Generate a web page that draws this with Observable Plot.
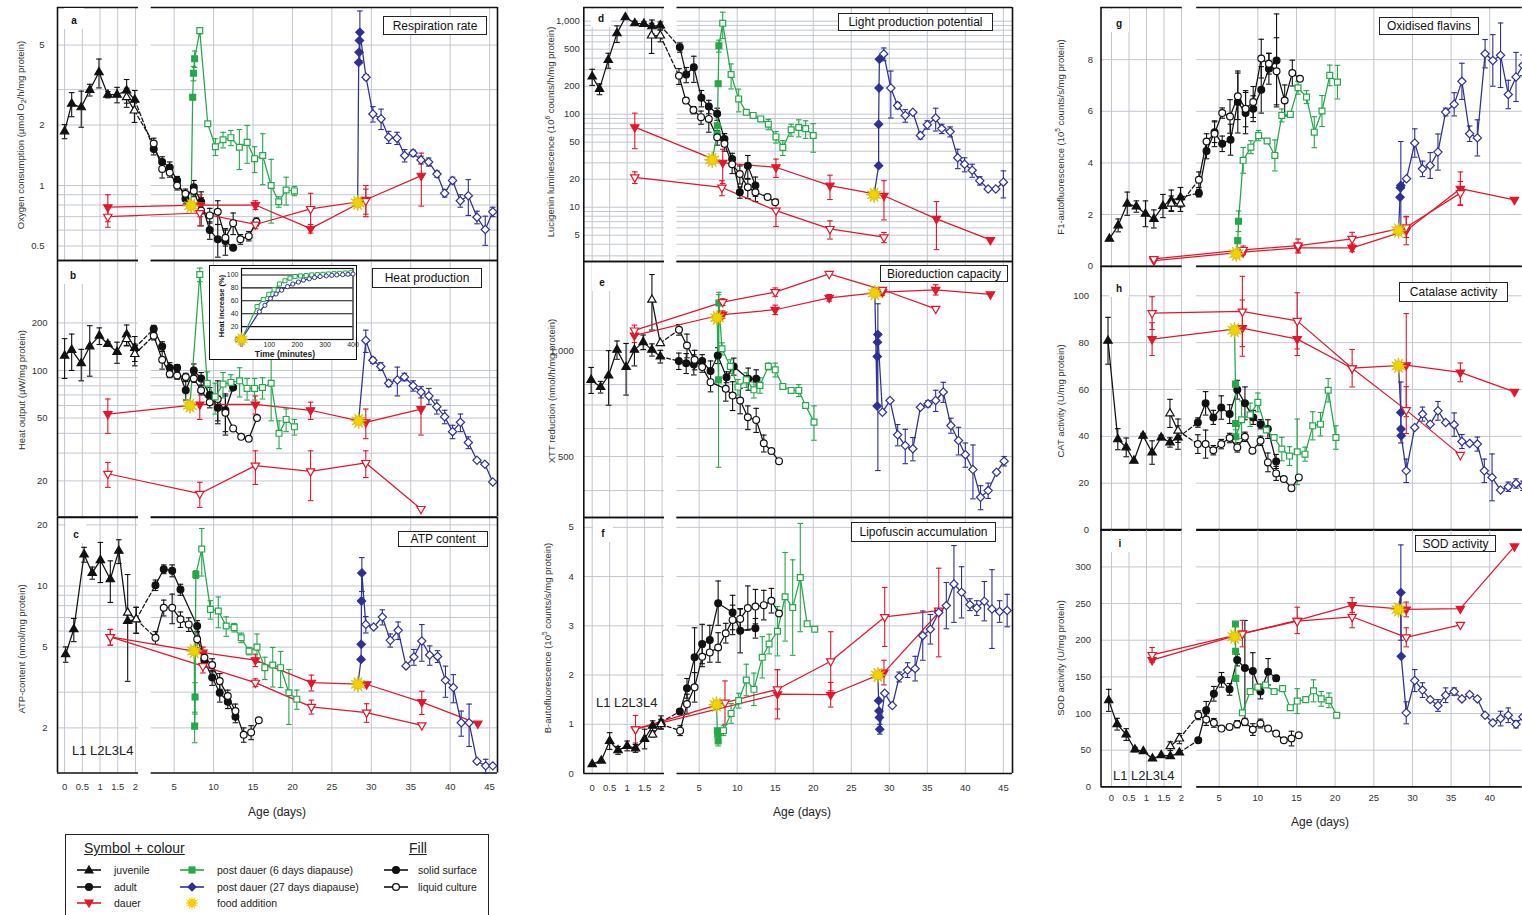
<!DOCTYPE html>
<html><head><meta charset="utf-8">
<script src="https://cdn.jsdelivr.net/npm/d3@7"></script>
<script src="https://cdn.jsdelivr.net/npm/@observablehq/plot@0.6"></script>
<style>
body{margin:0;background:#fff;font-family:"Liberation Sans",Arial,sans-serif;}
#page{position:relative;width:1522px;height:915px;overflow:hidden;background:#fff;}
.ylab{position:absolute;white-space:nowrap;font-size:9.5px;color:#333;transform:translate(-50%,-50%) rotate(-90deg);}
.title{position:absolute;border:1.5px solid #222;background:#fff;font-size:12px;color:#111;white-space:nowrap;box-sizing:border-box;display:flex;align-items:center;justify-content:center;}
.letter{position:absolute;background:#fff;font-weight:bold;font-size:10px;color:#111;display:flex;align-items:flex-end;justify-content:center;box-sizing:border-box;padding-bottom:3px;}
.age{position:absolute;font-size:12px;color:#222;transform:translate(-50%,-50%);white-space:nowrap;}
.stage{position:absolute;font-size:13px;color:#222;transform:translate(0,-50%);white-space:nowrap;}
.lg{position:absolute;font-size:10.5px;color:#222;white-space:nowrap;transform:translate(0,-50%);}
</style></head><body><div id="page"></div><script>
// ---------------- DATA: [day, value, err] or [day, value, low, high] ----------------
// a: respiration rate
const a_js=[[0,1.86,0.15],[0.2,2.55,0.35],[0.47,2.45,0.5],[0.71,2.99,0.2],[0.97,3.66,0.6],[1.22,2.83,0.1],[1.48,2.83,0.25],[1.75,2.97,0.4],[1.98,2.67,0.3]];
const a_jl=[[1.75,2.75,0.3],[1.97,2.36,0.3]];
const a_as=[[2.41,1.52,0.1],[3.48,1.31,0.08],[4.44,1.23,0.08],[5.38,1.06,0.05],[6.43,0.86,0.05],[7.49,0.98,0.08],[8.42,0.83,0.1],[9.51,0.6,0.06],[10.53,0.54,0.1],[11.5,0.53,0.08],[12.48,0.49,0]];
const a_al=[[2.41,1.62,0.1],[3.48,1.21,0.12],[4.44,1.16,0.06],[5.38,1.0,0.05],[6.43,0.91,0.05],[7.49,0.94,0.06],[8.42,0.75,0.12],[9.51,0.71,0.06],[10.53,0.74,0.1],[11.5,0.55,0.05],[12.48,0.65,0.08],[13.4,0.54,0.03],[14.46,0.56,0.03],[15.43,0.66,0.03]];
const a_ds=[[1.22,0.78,0.12],[8.3,0.8,0.1],[15.3,0.8,0.04],[22.3,0.61,0.03],[29.3,0.85,0.15],[36.34,1.12,0.33]];
const a_dl=[[1.22,0.70,0.08],[8.25,0.73,0.1],[15.3,0.64,0.03],[22.3,0.765,0.15],[29.3,0.84,0.12]];
const a_gs=[[7.35,2.75,0],[7.45,3.62,0.3],[7.6,4.27,0.4]];
const a_gl=[[8.25,5.9,0.2],[9.26,2.03,0.05],[10.23,1.56,0.15],[11.2,1.69,0.15],[12.2,1.73,0.15],[13.27,1.55,0.35],[14.25,1.64,0.35],[15.2,1.36,0.2],[16.23,1.41,0.4],[17.3,1.0,0.35],[18.26,0.83,0.05],[19.2,0.95,0.15],[20.25,0.94,0.05]];
const a_bs=[[28.4,4.1,0],[28.45,4.6,0],[28.5,5.27,0],[28.55,5.79,1.6]];
const a_bl=[[29.33,3.46,0.1],[30.2,2.27,0.2],[31.24,2.15,0.25],[32.2,1.74,0.12],[33.26,1.72,0.12],[34.23,1.41,0.1],[35.3,1.45,0.05],[36.3,1.34,0.06],[37.27,1.31,0.06],[38.33,1.14,0.04],[39.3,0.916,0.04],[40.3,1.06,0.04],[41.28,0.84,0.06],[42.3,0.89,0.18],[43.4,0.695,0.05],[44.45,0.604,0.1],[45.4,0.74,0.04]];
const a_star=[[7.15,0.795],[28.27,0.82]];
// b: heat production
const b_js=[[0,124,35],[0.2,135,35],[0.47,111,25],[0.71,142,50],[0.98,166,20],[1.22,147,5],[1.48,131,20],[1.75,169,25],[1.98,139,25]];
const b_jl=[[1.75,158,15],[1.98,127,20]];
const b_as=[[2.41,183,10],[3.48,142,10],[4.44,104,8],[5.38,104,5],[6.47,75,10],[7.49,100,10],[8.42,89,8],[9.51,70,8],[10.53,58,10],[11.5,56,15],[12.48,78,0]];
const b_al=[[2.41,166,10],[3.48,117,15],[4.44,95,5],[5.38,93,5],[6.47,91,5],[7.49,89,5],[8.42,75,5],[9.51,63,5],[10.53,66,20],[11.5,54,15],[12.48,43,0],[13.5,38,0],[14.46,37,0],[15.5,50,0]];
const b_ds=[[1.22,53,13],[8.25,61,12],[15.3,61,8],[22.3,56,7],[29.3,47,10],[36.3,57,18]];
const b_dl=[[1.22,22.2,4],[8.25,16.6,3],[15.3,25,6],[22.3,23,8],[29.3,26,5],[36.3,13.3,0]];
const b_gs=[];
const b_gl=[[8.25,405,40],[9.2,83,15],[10.2,68,15],[11.2,82,15],[12.2,84,10],[13.3,86,18],[14.25,77,12],[15.2,77,12],[16.2,78,12],[17.3,83,35],[18.3,40,8],[19.2,49,8],[20.25,44,5]];
const b_bs=[];
const b_bl=[[29.3,155,25],[30.2,116,5],[31.2,106,6],[32.2,83,4],[33.3,87,18],[34.2,91,5],[35.3,80,6],[36.3,73,6],[37.3,69,8],[38.3,59,6],[39.3,51,5],[40.3,41,4],[41.3,47,6],[42.3,35,3],[43.4,27,0],[44.4,25.5,0],[45.4,19.7,0]];
const b_star=[[7.0,60],[28.4,48]];
// b inset: heat increase (%) vs time (minutes)
const inset_green=[[0,0],[56,51],[78,62],[98,70],[117,77],[136,86],[156,91],[174,95],[192,97.5],[212,98.5],[232,99],[252,100],[272,100.5],[292,101],[312,101.5],[332,102],[352,102.5],[372,103],[392,103.5]];
const inset_blue=[[0,0],[64,43],[84,53],[104,63.5],[124,70.5],[144,76.5],[165,82],[184,86],[204,89],[222,92],[243,94],[262,96],[282,97.5],[304,98.5],[324,99.5],[342,100],[363,100.5],[382,101],[400,101.5]];
// c: ATP content
const c_js=[[0.03,4.61,0.4],[0.26,6.12,0.8],[0.55,14.3,1.2],[0.78,11.6,0.8],[1.01,13.4,3],[1.29,10.8,2.5],[1.53,14.9,2],[1.78,6.72,0],[2.02,6.85,1]];
const c_jl=[[1.78,7.39,4],[2.02,6.85,1]];
const c_as=[[2.63,10.1,0.6],[3.68,12.1,0.6],[4.75,11.9,0.8],[5.8,9.6,0.6],[7.92,6.35,0.4],[8.84,4.27,0.3],[9.82,3.54,0.3],[10.78,2.98,0.3],[11.8,2.69,0.2],[12.77,2.27,0.15]];
const c_al=[[2.63,5.56,0.4],[3.68,7.82,0.7],[4.75,7.82,1.3],[5.8,6.85,0.6],[6.85,6.47,0.5],[7.92,5.46,0.5],[8.84,4.44,0.3],[9.82,4.08,0.3],[10.78,3.4,0.3],[11.8,2.87,0.2],[12.77,2.42,0.2],[13.82,1.85,0.15],[14.76,1.9,0.15],[15.73,2.18,0]];
const c_ds=[[1.29,5.61,0.5],[8.65,4.7,0.3],[15.3,4.31,0.3],[22.4,3.34,0.3],[29.4,3.28,0],[36.4,2.68,0.35],[43.5,2.1,0]];
const c_dl=[[1.29,5.61,0.5],[8.65,4.03,0.3],[15.3,3.34,0.15],[22.4,2.54,0.2],[29.4,2.38,0.25],[36.4,2.06,0]];
const c_gs=[[7.6,2.04,0.35],[7.65,2.84,0.5],[7.75,11.4,0.5]];
const c_gl=[[8.5,15.2,4],[9.6,7.67,0.8],[10.6,7.53,1.3],[11.6,6.35,0.7],[12.6,6.24,0.3],[13.5,5.56,0.3],[14.5,4.78,0.2],[15.5,5.0,0.8],[16.5,3.96,0.5],[17.5,4.08,0.9],[18.5,3.96,0.8],[19.55,2.98,0.9],[20.55,2.77,0.3]];
const c_bs=[[28.7,4.35,0],[28.72,5.16,0],[28.75,8.44,0],[28.8,11.6,2.2]];
const c_bl=[[29.3,6.47,0.6],[30.3,6.28,0],[31.4,7.03,0.6],[32.4,5.4,0.4],[33.4,6.05,0.6],[34.4,4.04,0],[35.4,4.47,0.4],[36.4,5.36,1.1],[37.4,4.57,0.5],[38.4,4.5,0.3],[39.4,3.43,0.6],[40.4,3.16,0.5],[41.4,2.12,0.3],[42.4,2.12,0.5],[43.4,1.37,0],[44.5,1.3,0.1],[45.4,1.3,0]];
const c_star=[[7.55,4.78],[28.3,3.28]];
// d: light production potential
const d_js=[[0,254,50],[0.21,187,25],[0.46,382,70],[0.71,740,150],[0.95,1100,0],[1.22,950,50],[1.48,935,50],[1.71,880,150],[1.95,900,80]];
const d_jl=[[1.7,700,250],[1.95,700,100]];
const d_as=[[2.46,524,60],[3.3,268,50],[4.3,320,100],[5.3,150,30],[6.27,121,20],[7.37,101,15],[8.33,54,8],[9.34,33,5],[10.35,14.5,2],[11.4,28,8],[12.4,17.1,4]];
const d_al=[[2.35,259,50],[3.26,140,10],[4.25,111,10],[5.25,93,15],[6.27,89,25],[7.37,56.5,10],[8.33,48,8],[9.34,29,6],[10.35,22.8,5],[11.4,16.4,4],[12.4,14.5,3],[14.0,12.9,0],[15.0,11.3,0]];
const d_ds=[[1.22,72.6,30],[8.1,30,12],[15.1,26.9,6],[22.2,17.1,5],[29.3,13.3,6],[36.2,7.5,4],[43.3,4.45,0]];
const d_dl=[[1.22,21,3],[8.0,16.3,3],[15.1,9.2,3],[22.2,5.85,1.3],[29.3,4.76,0.6]];
const d_gs=[[7.37,61,0],[7.4,75,0],[7.5,213,0],[7.6,545,80]];
const d_gl=[[8.1,950,300],[9.2,267,80],[10.2,146,40],[11.2,105,0],[12.1,97,0],[13.1,89,0],[14.1,78,10],[15.1,57,8],[16.0,44,8],[17.1,68,10],[18.1,72,15],[19.0,70,15],[20.0,59,20]];
const d_bs=[[28.6,28,0],[28.6,78,0],[28.65,191,0],[28.7,390,0]];
const d_bl=[[29.27,445,70],[30.2,191,100],[31.1,124,10],[32.1,97,15],[33.1,105,0],[34.1,59,5],[35.0,77,8],[36.1,91,25],[36.9,70,8],[38.0,65,8],[39.0,34,8],[39.9,29,5],[40.9,25,4],[41.9,19.3,2],[43.0,15.7,0],[44.0,15.7,0],[45.0,18.6,6]];
const d_star=[[6.72,32.3],[28.0,13.6]];
// e: bioreduction capacity
const e_js=[[-0.03,825,70],[0.24,787,30],[0.47,849,150],[0.71,1004,60],[0.97,897,150],[1.21,1004,100],[1.46,1056,50],[1.71,1004,40],[1.95,961,40]];
const e_jl=[[1.71,1393,250],[1.95,1049,0]];
const e_as=[[2.33,933,50],[3.3,920,60],[4.3,912,60],[5.4,933,40],[6.5,874,60],[7.45,968,50],[8.6,840,30],[9.55,901,50],[11.45,831,60],[12.5,831,50]];
const e_al=[[2.35,1145,40],[3.4,1033,80],[4.4,941,60],[5.4,897,30],[6.5,813,50],[8.5,778,60],[9.4,745,70],[10.4,721,60],[11.4,646,50],[12.5,635,50],[13.5,545,30],[14.5,518,0],[15.5,485,0]];
const e_ds=[[1.21,1103,50],[8.1,1265,30],[15.0,1305,40],[22.1,1411,30],[29.1,1465,30],[36.1,1487,50],[43.3,1443,0]];
const e_dl=[[1.21,1140,40],[8.1,1372,30],[15.0,1465,40],[22.1,1650,0],[29.1,1487,0],[36.1,1313,0]];
const e_gs=[[7.55,825,466,1440],[7.6,1363,100]];
const e_gl=[[8.0,1011,40],[9.1,901,40],[10.1,787,40],[11.2,825,40],[12.2,773,40],[13.0,796,40],[14.1,901,20],[15.0,881,40],[16.0,790,0],[17.1,770,0],[18.1,770,30],[19.0,698,0],[20.1,626,70]];
const e_bs=[[28.4,695,0],[28.42,961,0],[28.45,1056,0],[28.5,1110,456,1357]];
const e_bl=[[29.1,668,0],[30.1,721,0],[31.1,576,40],[32.1,537,60],[33.1,526,40],[34.1,690,0],[35.1,706,15],[36.1,721,50],[37.1,762,50],[38.1,612,30],[39.1,555,50],[40.0,506,40],[41.0,459,80],[42.0,383,30],[43.0,400,20],[44.1,451,0],[45.1,485,15]];
const e_star=[[7.37,1238],[28.1,1455]];
// f: lipofuscin accumulation
const f_js=[[0,0.19,0],[0.26,0.26,0],[0.5,0.66,0.17],[0.74,0.47,0.08],[1.0,0.56,0.1],[1.24,0.51,0.08],[1.5,0.7,0.2],[1.73,0.97,0.1],[1.97,1.04,0.13]];
const f_jl=[[1.73,0.79,0.05],[1.97,1.0,0.1]];
const f_as=[[2.46,1.26,0],[3.4,1.73,0.2],[4.4,2.36,0.6],[5.4,2.63,0.4],[6.4,2.71,0.3],[7.5,3.46,0.45],[9.4,3.27,0.35],[10.4,2.9,0.45],[12.4,2.95,0.2]];
const f_al=[[2.5,0.87,0.1],[3.4,1.41,0.2],[4.4,1.75,0.3],[5.4,2.37,0.2],[6.4,2.46,0.2],[7.5,2.56,0.3],[8.5,2.85,0.2],[9.4,3.12,0.3],[10.4,3.14,0.2],[11.4,3.36,0.45],[12.4,3.39,0.35],[13.5,3.42,0.3],[14.5,3.51,0.25],[15.5,3.25,0]];
const f_ds=[[1.24,0.9,0.28],[15.3,1.61,0.5],[22.3,1.6,0.25],[29.3,2.05,0.25],[36.5,3.27,0.9]];
const f_dl=[[1.24,0.9,0],[8.4,1.44,0.44],[15.3,1.71,0.4],[22.3,2.28,0.6],[29.4,3.18,0.6],[36.5,3.31,0]];
const f_gs=[[7.4,0.87,0],[7.45,0.8,0],[7.5,0.66,0.1]];
const f_gl=[[8.2,0.87,0.1],[9.2,1.22,0.2],[10.2,1.48,0.15],[11.2,1.9,0.32],[12.2,1.71,0.33],[13.3,2.36,0.42],[14.2,2.63,0.2],[15.3,2.89,0.5],[16.3,3.59,0.9],[17.3,3.37,0.97],[18.3,3.98,1.1],[19.2,3.04,0.05],[20.2,2.93,0]];
const f_bs=[[28.6,1.48,0],[28.65,1.27,0],[28.7,1.14,0],[28.75,0.9,0.1]];
const f_bl=[[29.4,1.63,0],[30.4,1.38,0],[31.3,1.96,0.1],[32.4,2.1,0.15],[33.4,2.13,0.25],[34.4,2.8,0.5],[35.4,2.93,0.3],[36.5,3.27,0],[37.5,3.41,0.47],[38.5,3.85,0.78],[39.5,3.68,0.52],[40.6,3.43,0.12],[41.5,3.36,0.15],[42.5,3.5,0.4],[43.5,3.34,0.8],[44.5,3.29,0.22],[45.5,3.31,0.33]];
const f_star=[[7.28,1.40],[28.5,2.0]];
// g: oxidised flavins
const g_js=[[-0.06,1.06,0],[0.19,1.58,0.25],[0.45,2.42,0.45],[0.71,2.31,0.22],[0.97,2.03,0.5],[1.21,1.83,0.35],[1.47,2.33,0.45],[1.71,2.55,0.4],[1.97,2.67,0.38]];
const g_jl=[[1.71,2.42,0.3],[1.97,2.42,0.3]];
const g_as=[[2.37,2.83,0.15],[3.36,4.46,0.3],[4.4,5.19,0.4],[5.39,4.74,0.3],[6.47,4.9,0.6],[7.41,6.36,1.2],[8.41,5.93,0.8],[9.4,6.1,0.5],[10.44,6.83,0.9],[11.43,7.65,0.6],[12.42,7.97,1.8]];
const g_al=[[2.37,3.35,0.3],[3.36,4.83,0.3],[4.4,5.13,0.5],[5.39,5.93,0.2],[6.4,5.8,0.65],[7.41,6.58,0.9],[8.41,6.1,0.7],[9.4,6.36,0.6],[10.44,8.04,0.75],[11.43,7.84,0.4],[12.42,7.55,1.3],[13.47,6.42,0.6],[14.46,7.48,0.5],[15.45,7.26,0]];
const g_ds=[[1.21,0.22,0],[8.1,0.54,0.1],[15.2,0.71,0.2],[22.2,0.71,0.15],[29.2,1.38,0.55],[36.2,3.0,0.65],[43.2,2.57,0]];
const g_dl=[[1.21,0.28,0],[8.1,0.63,0.15],[15.2,0.80,0.25],[22.2,1.06,0.25],[29.2,1.51,0.4],[36.2,2.83,0.45]];
const g_gs=[[7.4,0.99,0],[7.5,1.74,0.4]];
const g_gl=[[8.1,4.1,0.5],[9.1,4.61,0.25],[10.1,5.06,0.2],[11.2,4.85,0],[12.2,4.29,0.6],[13.1,5.84,0.25],[14.2,5.88,0],[15.2,6.91,0.25],[16.3,6.55,0.25],[17.3,5.19,0.6],[18.3,6.01,0.6],[19.3,7.39,0.4],[20.3,7.13,0.65]];
const g_bs=[[28.4,2.67,0],[28.45,3.04,0],[28.5,3.13,1.7]];
const g_bl=[[29.24,3.39,0],[30.3,4.77,0.55],[31.3,3.77,0.3],[32.3,3.9,0.5],[33.3,4.42,0.7],[34.3,5.97,0.15],[35.4,6.27,0.45],[36.4,7.16,0.7],[37.4,5.13,0.3],[38.4,4.97,0.7],[39.4,8.23,0.55],[40.4,7.97,1.0],[41.4,8.17,1.25],[42.4,6.65,0.55],[43.4,7.33,0.95],[44.3,7.78,0.4],[45.0,8.2,0.5]];
const g_star=[[7.21,0.48],[28.2,1.38]];
// h: catalase activity
const h_js=[[-0.1,80.8,10],[0.18,38.8,4.5],[0.42,35.3,4],[0.64,29.6,0],[0.9,40.3,1],[1.16,33.1,5],[1.42,39.5,1],[1.67,37.4,2],[1.9,39.5,5]];
const h_jl=[[1.67,49.8,6],[1.9,42.4,5]];
const h_as=[[2.24,45.9,2],[3.24,54.1,5],[4.24,48.1,3],[5.27,52.3,5],[6.35,49.5,4],[7.34,59.9,4],[8.33,54.1,7],[9.4,48.1,3],[10.35,45.2,2],[11.3,43.1,4],[12.37,29.3,3]];
const h_al=[[2.24,36.7,4],[3.24,36.7,6],[4.24,34.1,2],[5.27,36.7,2],[6.35,39.3,2],[7.34,35.3,2],[8.33,39.8,2],[9.3,33.9,0],[10.35,38.1,2],[11.3,28.9,4],[12.37,24.2,3],[13.36,21.8,0],[14.35,17.9,0],[15.3,22.5,0]];
const h_ds=[[1.16,81.5,7],[8.0,86.2,12],[15.1,81.5,7],[22.2,69.1,8],[29.2,70.4,22],[36.2,67.3,4],[43.2,59.0,0]];
const h_dl=[[1.16,92.6,7],[8.0,93.3,15],[15.1,89.3,12],[22.2,69.1,0],[29.2,51.2,10],[36.2,32.1,0]];
const h_gs=[[7.1,62.3,0],[7.12,45.5,0],[7.15,39.8,3]];
const h_gl=[[7.9,47.1,8],[9.0,49.2,5],[10.0,54.5,4],[11.1,42.7,0],[12.1,39.5,0],[13.1,34.6,5],[14.1,31.6,4],[15.1,33.4,14],[16.1,32.4,3],[17.1,44.5,6],[18.1,45.2,5],[19.1,59.7,5],[20.1,39.5,5]];
const h_bs=[[28.5,50.2,13],[28.52,43.1,0],[28.55,40.3,0]];
const h_bl=[[29.2,25.3,5],[30.3,43.8,0],[31.3,49.5,3],[32.3,45.2,0],[33.3,50.9,4],[34.3,45.9,0],[35.4,45.0,5],[36.4,37.8,3],[37.4,37.0,0],[38.4,36.7,3],[39.3,25.3,5],[40.3,22.5,10],[41.4,17.1,0],[42.4,18.5,2],[43.4,19.9,2],[44.3,18.9,2]];
const h_star=[[6.99,85.3],[28.2,70.1]];
// i: SOD activity
const i_js=[[-0.08,118,15],[0.16,85.5,8],[0.42,71.4,8],[0.67,50.9,3],[0.91,48.6,0],[1.17,38.6,0],[1.42,43.2,0],[1.68,41.8,0],[1.94,46.8,0]];
const i_jl=[[1.68,55.5,6],[1.94,65.9,7]];
const i_as=[[2.29,63.6,0],[3.32,104.5,12],[4.31,127,10],[5.3,146,10],[6.34,133,8],[7.33,173,8],[8.32,162,91,227],[9.35,158,25],[10.34,130,10],[11.33,157,18],[12.37,148,4]];
const i_al=[[2.29,97.7,6],[3.32,91.8,8],[4.31,87.3,6],[5.3,79.5,0],[6.34,81.8,0],[7.33,85.5,5],[8.32,88.6,5],[9.35,78.2,8],[10.34,86.4,6],[11.33,79.5,0],[12.37,72.7,0],[13.36,63.6,0],[14.35,65.9,10],[15.3,70.5,0]];
const i_ds=[[1.16,173,0],[8.0,209,18],[15.1,227,18],[22.2,248,10],[29.2,242,10],[36.2,243,0],[43.2,328,0]];
const i_dl=[[1.16,180,10],[8.0,209,0],[15.1,226,0],[22.2,232,15],[29.2,204,13],[36.2,221,0]];
const i_gs=[[7.1,222,0],[7.12,185,0],[7.15,148,0]];
const i_gl=[[8.0,101,0],[9.0,130,0],[10.0,136,0],[11.0,139,0],[12.1,130,0],[13.2,134,0],[14.2,108,0],[15.1,117,17],[16.2,119,0],[17.2,131,15],[18.2,120,10],[19.2,118,10],[20.2,97.7,0]];
const i_bs=[[28.5,265,65],[28.55,178,0]];
const i_bl=[[29.2,101,15],[30.3,145,15],[31.3,132,10],[32.3,119,0],[33.3,111,8],[34.3,125,10],[35.4,130,5],[36.4,120,0],[37.4,126,0],[38.4,120,0],[39.4,97.7,0],[40.4,87.3,0],[41.4,93.2,10],[42.4,97.7,10],[43.4,85.5,5],[44.3,95.5,0]];
const i_star=[[6.99,205],[28.2,242]];
// tick labels
const xTicks12=[0,0.5,1,1.5,2,5,10,15,20,25,30,35,40,45];
const xTicks3=[0,0.5,1,1.5,2,5,10,15,20,25,30,35,40];
const yTicks_a=[0.5,1,2,5], yTicks_b=[20,50,100,200], yTicks_c=[2,5,10,20];
const yTicks_d=[5,10,20,50,100,200,500,1000], yTicks_e=[500,1000], yTicks_f=[0,1,2,3,4,5];
const yTicks_g=[0,2,4,6,8], yTicks_h=[0,20,40,60,80,100], yTicks_i=[0,50,100,150,200,250,300];

// ---------------- STYLE / LAYOUT ----------------
const BLACK="#111", RED="#e3172b", GREEN="#25a84a", BLUE="#2e3192", GRID="#c2c6d1", SUN="#f0d200";
const FONT='"Liberation Sans", Arial, sans-serif';
const s3=Math.sqrt(3);
const triDown={draw(ctx,size){const y=-Math.sqrt(size/(s3*3));ctx.moveTo(0,-2*y);ctx.lineTo(-s3*y,y);ctx.lineTo(s3*y,y);ctx.closePath();}};
const diamond={draw(ctx,size){const r=Math.sqrt(size/2);ctx.moveTo(0,-r);ctx.lineTo(r,0);ctx.lineTo(0,r);ctx.lineTo(-r,0);ctx.closePath();}};
const cap={draw(ctx,size){const r=Math.sqrt(size/Math.PI);ctx.moveTo(-r,0);ctx.lineTo(r,0);}};
const sun={draw(ctx,size){const R=Math.sqrt(size/Math.PI),n=12;for(let k=0;k<2*n;k++){const r=k%2?R*0.5:R,a=k*Math.PI/n-Math.PI/2;const x=r*Math.cos(a),y=r*Math.sin(a);k?ctx.lineTo(x,y):ctx.moveTo(x,y);}ctx.closePath();}};

const COLS=[
 {svgLeft:0,width:510,xDom:[-0.2,2.085,2.09,46],xr:[57,138,150.7,497],rightEdge:true,xPad:10.5,xTicks:xTicks12,rows:[[7,260],[260,516.5],[516.5,772]]},
 {svgLeft:520,width:500,xDom:[-0.24,2.07,2.09,46.2],xr:[583.3,664,676.5,1012],rightEdge:true,xPad:10.5,xTicks:xTicks12,rows:[[7,261],[261,517],[517,773]]},
 {svgLeft:1030,width:492,xDom:[-0.3,2.02,2.09,44.2],xr:[1100.5,1181.7,1196.2,1521.7],rightEdge:false,xPad:7.5,xTicks:xTicks3,rows:[[7,265.7],[265.7,529.3],[529.3,786.7]]}
];
const logGrid=(lo,hi)=>{const g=[];for(let e=-1;e<=3;e++)for(let m=1;m<10;m++){const v=m*10**e;if(v>=lo&&v<=hi)g.push(+v.toPrecision(3));}return g;};
const PANELS=[
 {id:"a",col:0,row:0,type:"log",dom:[0.4236,7.69],ticks:yTicks_a,grid:[0.5,0.6,0.7,0.8,0.9,1,2,3,5],pad:13,fmt:d=>String(d),
  d:{js:a_js,jl:a_jl,as:a_as,al:a_al,ds:a_ds,dl:a_dl,gs:a_gs,gl:a_gl,bs:a_bs,bl:a_bl,star:a_star}},
 {id:"b",col:0,row:1,type:"log",dom:[11.82,496.6],ticks:yTicks_b,grid:[20,30,40,50,60,70,80,90,100,200],pad:10,fmt:d=>String(d),
  d:{js:b_js,jl:b_jl,as:b_as,al:b_al,ds:b_ds,dl:b_dl,gs:b_gs,gl:b_gl,bs:b_bs,bl:b_bl,star:b_star}},
 {id:"c",col:0,row:2,type:"log",dom:[1.199,21.75],ticks:yTicks_c,grid:[2,3,5,6,7,8,9,10,20],pad:10,fmt:d=>String(d),
  d:{js:c_js,jl:c_jl,as:c_as,al:c_al,ds:c_ds,dl:c_dl,gs:c_gs,gl:c_gl,bs:c_bs,bl:c_bl,star:c_star}},
 {id:"d",col:1,row:0,type:"log",dom:[2.61,1403],ticks:yTicks_d,grid:logGrid(3,1000),pad:4,fmt:d3.format(","),
  d:{js:d_js,jl:d_jl,as:d_as,al:d_al,ds:d_ds,dl:d_dl,gs:d_gs,gl:d_gl,bs:d_bs,bl:d_bl,star:d_star}},
 {id:"e",col:1,row:1,type:"log",dom:[335.5,1789],ticks:yTicks_e,grid:[400,500,600,700,800,1000],pad:10,fmt:d3.format(","),
  d:{js:e_js,jl:e_jl,as:e_as,al:e_al,ds:e_ds,dl:e_dl,gs:e_gs,gl:e_gl,bs:e_bs,bl:e_bl,star:e_star}},
 {id:"f",col:1,row:2,type:"linear",dom:[0,5.2],ticks:yTicks_f,grid:[1,2,3,4,5],pad:10,fmt:d=>String(d),
  d:{js:f_js,jl:f_jl,as:f_as,al:f_al,ds:f_ds,dl:f_dl,gs:f_gs,gl:f_gl,bs:f_bs,bl:f_bl,star:f_star}},
 {id:"g",col:2,row:0,type:"linear",dom:[0,10.02],ticks:yTicks_g,grid:[2,4,6,8],pad:8,fmt:d=>String(d),
  d:{js:g_js,jl:g_jl,as:g_as,al:g_al,ds:g_ds,dl:g_dl,gs:g_gs,gl:g_gl,bs:g_bs,bl:g_bl,star:g_star}},
 {id:"h",col:2,row:1,type:"linear",dom:[0,112.5],ticks:yTicks_h,grid:[20,40,60,80,100],pad:12,fmt:d=>String(d),
  d:{js:h_js,jl:h_jl,as:h_as,al:h_al,ds:h_ds,dl:h_dl,gs:h_gs,gl:h_gl,bs:h_bs,bl:h_bl,star:h_star}},
 {id:"i",col:2,row:2,type:"linear",dom:[0,351],ticks:yTicks_i,grid:[50,100,150,200,250,300],pad:10,fmt:d=>String(d),
  d:{js:i_js,jl:i_jl,as:i_as,al:i_al,ds:i_ds,dl:i_dl,gs:i_gs,gl:i_gl,bs:i_bs,bl:i_bl,star:i_star}}
];
const SER={
 js:{c:BLACK,sym:"triangle",f:true,r:3.1}, jl:{c:BLACK,sym:"triangle",f:false,r:3.1},
 as:{c:BLACK,sym:"circle",f:true,r:3.4}, al:{c:BLACK,sym:"circle",f:false,r:3.4},
 ds:{c:RED,sym:triDown,f:true,r:3.1}, dl:{c:RED,sym:triDown,f:false,r:3.1},
 gs:{c:GREEN,sym:"square",f:true,r:3.3}, gl:{c:GREEN,sym:"square",f:false,r:3.3},
 bs:{c:BLUE,sym:diamond,f:true,r:3.3}, bl:{c:BLUE,sym:diamond,f:false,r:3.3}
};
const X=p=>p[0], Y=p=>p[1];
const page=document.getElementById("page");

function makePanel(P){
  const col=COLS[P.col];const [ft,fb]=col.rows[P.row];
  const mt=6, mb=P.row===2?40:6;
  const height=fb-ft+mt+mb;
  const xd=col.xDom, yd=P.dom;
  const lo=p=>Math.max(yd[0],p.length>3?p[2]:p[1]-(p[2]||0));
  const hi=p=>Math.min(yd[1],p.length>3?p[3]:p[1]+(p[2]||0));
  const grid=[], frame=[], errs=[], lines=[], dots=[];
  grid.push(Plot.ruleX(col.xTicks,{stroke:GRID,strokeWidth:1}));
  grid.push(Plot.ruleY(P.grid,{x1:xd[0],x2:xd[1],stroke:GRID,strokeWidth:1}));
  grid.push(Plot.ruleY(P.grid,{x1:xd[2],x2:xd[3],stroke:GRID,strokeWidth:1}));
  frame.push(Plot.ruleX([xd[0]],{stroke:BLACK,strokeWidth:1.6}));
  if(col.rightEdge) frame.push(Plot.ruleX([xd[3]],{stroke:BLACK,strokeWidth:1.6}));
  frame.push(Plot.ruleY(yd,{x1:xd[0],x2:xd[1],stroke:BLACK,strokeWidth:1.6}));
  frame.push(Plot.ruleY(yd,{x1:xd[2],x2:xd[3],stroke:BLACK,strokeWidth:1.6}));
  // y tick labels
  frame.push(Plot.text(P.ticks,{x:xd[0],y:d=>d,text:P.fmt,textAnchor:"end",dx:-P.pad,fill:"#333",fontSize:9.5}));
  const D=P.d;
  for(const k of Object.keys(SER)){
    const pts=D[k]; if(!pts||!pts.length) continue; const s=SER[k];
    const eb=pts.filter(p=>p.length>3||p[2]>0);
    if(eb.length){
      errs.push(Plot.ruleX(eb,{x:X,y1:lo,y2:hi,stroke:s.c,strokeWidth:1.1}));
      errs.push(Plot.dot(eb,{x:X,y:lo,symbol:cap,r:2.8,fill:"none",stroke:s.c,strokeWidth:1.1}));
      errs.push(Plot.dot(eb,{x:X,y:hi,symbol:cap,r:2.8,fill:"none",stroke:s.c,strokeWidth:1.1}));
    }
  }
  const line=(pts,c,extra={})=>Plot.line(pts,{x:X,y:Y,stroke:c,strokeWidth:1.25,strokeLinejoin:"round",...extra});
  lines.push(line(D.js,BLACK),line(D.jl,BLACK),line(D.as,BLACK),line(D.al,BLACK));
  lines.push(line([D.js[D.js.length-1],D.as[0]],BLACK,{strokeDasharray:"4,2.5"}));
  lines.push(line([D.jl[D.jl.length-1],D.al[0]],BLACK,{strokeDasharray:"4,2.5"}));
  lines.push(line(D.ds,RED),line(D.dl,RED));
  lines.push(line([D.star[0],...D.gs,...D.gl],GREEN));
  lines.push(line([D.star[1],...D.bs,...D.bl],BLUE));
  for(const k of ["js","as","ds","gs","bs","jl","al","dl","gl","bl"]){
    const pts=D[k]; if(!pts||!pts.length) continue; const s=SER[k];
    dots.push(Plot.dot(pts,{x:X,y:Y,symbol:s.sym,r:s.r,fill:s.f?s.c:"white",stroke:s.c,strokeWidth:1.2}));
  }
  dots.push(Plot.dot(D.star,{x:X,y:Y,symbol:sun,r:8,fill:SUN,stroke:"#c9ae00",strokeWidth:0.6}));
  const svg=Plot.plot({
    width:col.width,height,marginTop:mt,marginBottom:mb,
    marginLeft:col.xr[0]-col.svgLeft,marginRight:col.svgLeft+col.width-col.xr[3],
    style:{background:"transparent",fontFamily:FONT,fontSize:"9.5px",color:"#333",overflow:"visible"},
    x:{type:"linear",domain:xd,range:col.xr.map(v=>v-col.svgLeft),ticks:col.xTicks,tickFormat:d=>String(d),tickSize:0,tickPadding:col.xPad,axis:P.row===2?"bottom":null,label:null},
    y:{type:P.type,domain:yd,axis:null},
    marks:[...grid,...frame,...errs,...lines,...dots]
  });
  svg.style.position="absolute";svg.style.left=col.svgLeft+"px";svg.style.top=(ft-mt)+"px";
  page.appendChild(svg);
}
PANELS.forEach(makePanel);

// ---------------- inset (panel b) ----------------
const insetBox=document.createElement("div");
insetBox.style.cssText="position:absolute;left:209px;top:265px;width:148px;height:95px;border:1.5px solid #111;background:#fff;box-sizing:border-box;overflow:visible;";
page.appendChild(insetBox);
const inset=Plot.plot({
  width:145,height:92,marginLeft:31,marginRight:2.5,marginTop:2,marginBottom:19,
  style:{background:"transparent",fontFamily:FONT,fontSize:"7px",color:"#222",overflow:"visible"},
  x:{domain:[0,400],ticks:[0,100,200,300,400],tickSize:0,tickPadding:3,label:null},
  y:{domain:[0,110],ticks:[0,20,40,60,80,100],tickSize:0,tickPadding:3,label:null},
  marks:[
    Plot.ruleY([20,40,60,80,100],{stroke:"#111",strokeWidth:1.1}),
    Plot.frame({stroke:"#111",strokeWidth:1.2}),
    Plot.line(inset_green,{x:X,y:Y,stroke:GREEN,strokeWidth:1.2}),
    Plot.line(inset_blue,{x:X,y:Y,stroke:BLUE,strokeWidth:1.2}),
    Plot.dot(inset_green.slice(1),{x:X,y:Y,symbol:"square",r:2.3,fill:"white",stroke:GREEN,strokeWidth:1}),
    Plot.dot(inset_blue.slice(1),{x:X,y:Y,symbol:"circle",r:2.1,fill:"white",stroke:BLUE,strokeWidth:1}),
    Plot.dot([[0,0]],{x:X,y:Y,symbol:sun,r:7,fill:SUN,stroke:"#c9ae00",strokeWidth:0.5})
  ]
});
inset.style.position="absolute";inset.style.left="0px";inset.style.top="0px";
insetBox.appendChild(inset);

// ---------------- HTML text ----------------
function add(html,cls,css){const e=document.createElement("div");e.className=cls;e.innerHTML=html;e.style.cssText+=css;page.appendChild(e);return e;}
add("Time (minutes)","age","left:285px;top:354px;font-size:8.5px;font-weight:bold;");
add("Heat increase (%)","ylab","left:221px;top:306px;font-size:7.5px;font-weight:bold;color:#111;");
const YL=[["Oxygen consumption (µmol O<sub style='font-size:7px'>2</sub>/h/mg protein)",21,135],["Heat output (µW/mg protein)",21,390],["ATP-content (nmol/mg protein)",21,649],
 ["Lucigenin luminescence (10<sup style='font-size:6.5px'>6</sup> counts/h/mg protein)",550,132],["XTT reduction (nmol/h/mg protein)",551,391],["B-autofluorescence (10<sup style='font-size:6.5px'>5</sup> counts/s/mg protein)",547,638],
 ["F1-autofluorescence (10<sup style='font-size:6.5px'>5</sup> counts/s/mg protein)",1060,137],["CAT activity (U/mg protein)",1060,401],["SOD activity (U/mg protein)",1060,658]];
YL.forEach(([t,x,y])=>add(t,"ylab",`left:${x}px;top:${y}px;`));
const TB=[["Respiration rate",383,16,104,19],["Heat production",372,268,110,20],["ATP content",398,531,90,16],["Light production potential",838,13,155,18],["Bioreduction capacity",880,265,128,17],["Lipofuscin accumulation",851,522,145,20],["Oxidised flavins",1379,17,100,18],["Catalase activity",1399,282,109,20],["SOD activity",1415,535,81,17]];
TB.forEach(([t,x,y,w,h])=>add(t,"title",`left:${x}px;top:${y}px;width:${w}px;height:${h}px;`));
const LT=[["a",73,20,7],["b",72,275,261],["c",75,534,518],["d",600,18,8],["e",601,282,262],["f",602,533,518],["g",1118,23,8],["h",1118,288,267],["i",1119,543,531]];
LT.forEach(([t,x,y,top])=>add(t,"letter",`left:${x-9}px;top:${top+1}px;width:20px;height:${y+8-top}px;`));
add("L1 L2L3L4","stage","left:72px;top:750px;");
add("L1 L2L3L4","stage","left:596px;top:702px;");
add("L1 L2L3L4","stage","left:1113px;top:775px;");
add("Age (days)","age","left:277px;top:812px;");
add("Age (days)","age","left:802px;top:812px;");
add("Age (days)","age","left:1320px;top:822px;");

// ---------------- legend ----------------
const lg=document.createElement("div");
lg.style.cssText="position:absolute;left:65px;top:834px;width:424px;height:100px;border:1.5px solid #222;box-sizing:border-box;background:#fff;";
page.appendChild(lg);
function lgText(t,x,y,css=""){const e=document.createElement("div");e.className="lg";e.innerHTML=t;e.style.cssText+=`left:${x}px;top:${y}px;`+css;lg.appendChild(e);}
function glyph(x,y,color,shape,fill,line=true){
  const ns="http://www.w3.org/2000/svg";const s=document.createElementNS(ns,"svg");
  s.setAttribute("width",26);s.setAttribute("height",14);s.style.cssText=`position:absolute;left:${x}px;top:${y-7}px;overflow:visible;`;
  let h="";if(line)h+=`<line x1="0" y1="7" x2="24" y2="7" stroke="${color}" stroke-width="1.6"/>`;
  const f=fill?color:"white";
  if(shape==="tri")h+=`<path d="M12,3 L16,10 L8,10Z" fill="${f}" stroke="${color}" stroke-width="1.2"/>`;
  if(shape==="circ")h+=`<circle cx="12" cy="7" r="3.4" fill="${f}" stroke="${color}" stroke-width="1.3"/>`;
  if(shape==="tridown")h+=`<path d="M12,11 L16,4 L8,4Z" fill="${f}" stroke="${color}" stroke-width="1.2"/>`;
  if(shape==="sq")h+=`<rect x="9" y="4" width="6" height="6" fill="${f}" stroke="${color}" stroke-width="1.2"/>`;
  if(shape==="dia")h+=`<path d="M12,3 L16,7 L12,11 L8,7Z" fill="${f}" stroke="${color}" stroke-width="1.2"/>`;
  if(shape==="sun"){let p="";for(let k=0;k<24;k++){const r=k%2?3.5:7,a=k*Math.PI/12-Math.PI/2;p+=(k?"L":"M")+(12+r*Math.cos(a)).toFixed(2)+","+(7+r*Math.sin(a)).toFixed(2);}h+=`<path d="${p}Z" fill="${SUN}"/>`;}
  s.innerHTML=h;lg.appendChild(s);
}
lgText("Symbol + colour",18,13,"font-size:14px;text-decoration:underline;");
lgText("Fill",343,13,"font-size:14px;text-decoration:underline;");
glyph(11,35,BLACK,"tri",true);lgText("juvenile",48,35);
glyph(11,52,BLACK,"circ",true);lgText("adult",48,52);
glyph(11,68,RED,"tridown",true);lgText("dauer",48,68);
glyph(114,35,GREEN,"sq",true);lgText("post dauer (6 days diapause)",151,35);
glyph(114,52,BLUE,"dia",true);lgText("post dauer (27 days diapause)",151,52);
glyph(114,68,SUN,"sun",true,false);lgText("food addition",151,68);
glyph(318,35,BLACK,"circ",true);lgText("solid surface",352,35);
glyph(318,52,BLACK,"circ",false);lgText("liquid culture",352,52);
</script></body></html>
